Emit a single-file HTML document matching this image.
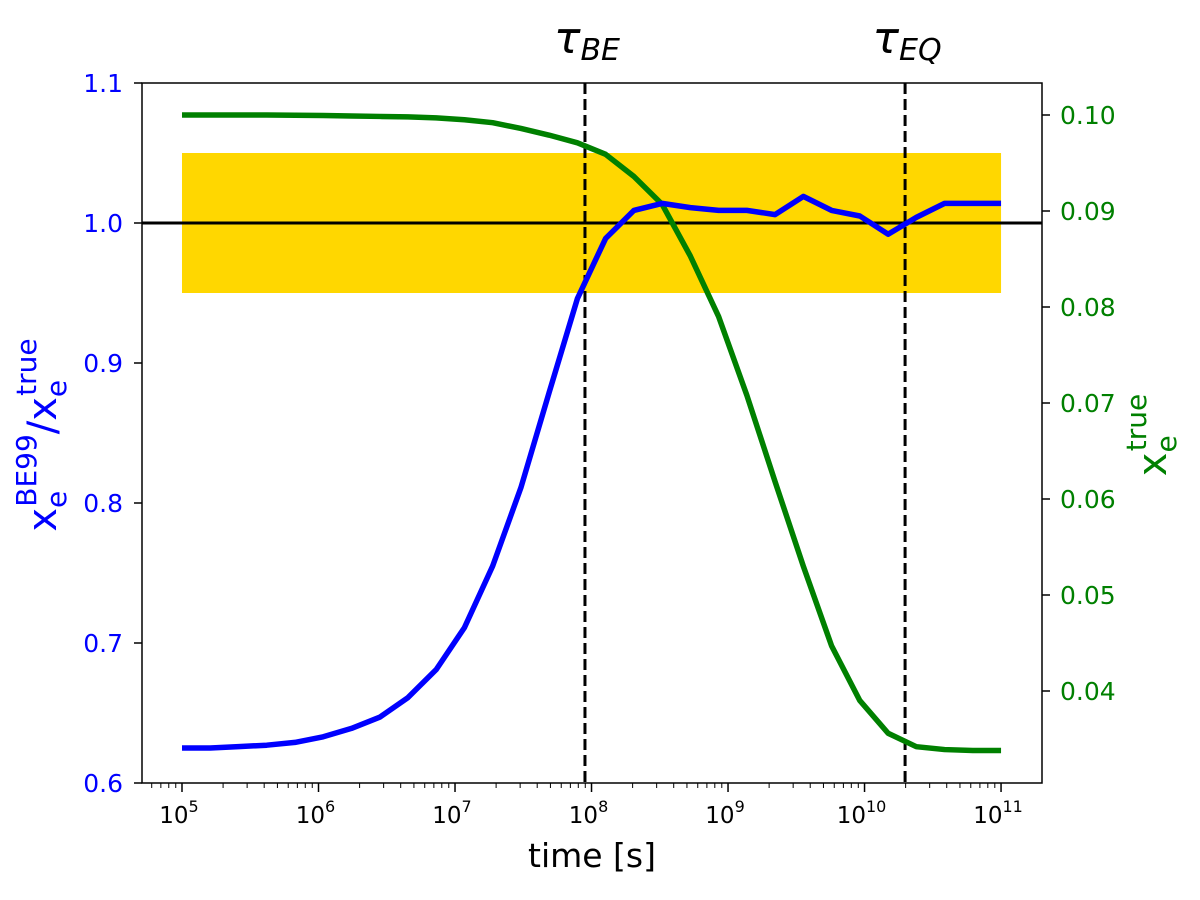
<!DOCTYPE html>
<html><head><meta charset="utf-8"><style>
body{margin:0;background:#fff}
svg text{font-family:"DejaVu Sans","Liberation Sans",sans-serif}
</style></head><body>
<svg id="chart" width="1200" height="895" xmlns="http://www.w3.org/2000/svg"></svg>
<script>
const logTimes=[5,5.2069,5.4138,5.6207,5.8276,6.0345,6.2414,6.4483,6.6552,6.8621,7.069,7.2759,7.4828,7.6897,7.8966,8.1034,8.3103,8.5172,8.7241,8.931,9.1379,9.3448,9.5517,9.7586,9.9655,10.1724,10.3793,10.5862,10.7931,11];
const ratioValues=[0.625,0.625,0.626,0.627,0.629,0.633,0.639,0.647,0.661,0.681,0.711,0.755,0.811,0.879,0.946,0.989,1.009,1.014,1.011,1.009,1.009,1.006,1.019,1.009,1.005,0.992,1.004,1.014,1.014,1.014];
const xeTrue=[0.1,0.1,0.1,0.1,0.09998,0.09995,0.0999,0.09985,0.0998,0.0997,0.0995,0.0992,0.0986,0.0979,0.0971,0.0959,0.0936,0.0907,0.0853,0.0790,0.0708,0.0618,0.0530,0.0447,0.0390,0.0356,0.0342,0.0339,0.0338,0.0338];
const leftTicks=[0.6,0.7,0.8,0.9,1.0,1.1];
const rightTicks=[0.04,0.05,0.06,0.07,0.08,0.09,0.10];
const xDecades=[5,6,7,8,9,10,11];
const markers=[{name:'tau-be',logt:7.952,label:'BE'},{name:'tau-eq',logt:10.297,label:'EQ'}];
const band=[0.95,1.05];

const NS='http://www.w3.org/2000/svg';
const svg=document.getElementById('chart');
const L=142,R=1042,T=83,B=783;
const X=lt=>L+(lt-4.707)/(11.30-4.707)*(R-L);
const YL=v=>B-(v-0.6)/(1.1-0.6)*(B-T);
const YR=v=>B-(v-0.030417)/(0.103333-0.030417)*(B-T);
function el(tag,attrs,parent){const e=document.createElementNS(NS,tag);for(const k in attrs)e.setAttribute(k,attrs[k]);(parent||svg).appendChild(e);return e;}

const b=el('rect',{x:X(5),y:YL(band[1]),width:X(11)-X(5),height:YL(band[0])-YL(band[1]),fill:'#ffd700'});


const h=el('line',{x1:L,x2:R,y1:YL(1),y2:YL(1),stroke:'#000','stroke-width':3});



markers.forEach(m=>{
  const l=el('line',{x1:X(m.logt),x2:X(m.logt),y1:T,y2:B,stroke:'#000','stroke-width':3,'stroke-dasharray':'11,5'});
  
  
  const t=el('text',{x:X(m.logt)+2,y:53,'text-anchor':'middle','font-size':44,'font-style':'italic'});
  
  
  t.innerHTML='τ<tspan font-size="30" dy="7">'+m.label+'</tspan>';
});

const pg=el('polyline',{points:logTimes.map((t,i)=>X(t)+','+YR(xeTrue[i])).join(' '),fill:'none',stroke:'#008000','stroke-width':5.5,'stroke-linejoin':'round'});


const pb=el('polyline',{points:logTimes.map((t,i)=>X(t)+','+YL(ratioValues[i])).join(' '),fill:'none',stroke:'#0000ff','stroke-width':5.5,'stroke-linejoin':'round'});



const fr=el('rect',{x:L,y:T,width:R-L,height:B-T,fill:'none',stroke:'#000','stroke-width':1.5});



leftTicks.forEach(v=>{
  el('line',{x1:L-8,x2:L,y1:YL(v),y2:YL(v),stroke:'#000','stroke-width':1.5});
  const t=el('text',{x:L-19,y:YL(v)+9,'text-anchor':'end','font-size':25,fill:'#0000ff'});
  
  
  t.textContent=v.toFixed(1);
});
rightTicks.forEach(v=>{
  el('line',{x1:R,x2:R+8,y1:YR(v),y2:YR(v),stroke:'#000','stroke-width':1.5});
  const t=el('text',{x:R+18,y:YR(v)+9,'font-size':25,fill:'#008000'});
  
  
  t.textContent=v.toFixed(2);
});
for(let d=4;d<=11;d++){for(let m=2;m<=9;m++){const lt=d+Math.log10(m);if(lt>4.707&&lt<11.30)el('line',{x1:X(lt),x2:X(lt),y1:B,y2:B+5,stroke:'#000','stroke-width':1});}}
xDecades.forEach(d=>{
  el('line',{x1:X(d),x2:X(d),y1:B,y2:B+9,stroke:'#000','stroke-width':1.5});
  const t=el('text',{x:X(d)-3,y:B+40,'text-anchor':'middle','font-size':23});
  
  
  t.innerHTML='10<tspan font-size="16" dy="-11">'+d+'</tspan>';
});
const xl=el('text',{x:(L+R)/2,y:867,'text-anchor':'middle','font-size':33});


xl.textContent='time [s]';
const yl=el('text',{transform:'translate(56,435) rotate(-90)','text-anchor':'middle','font-size':40,fill:'#0000ff'});


yl.innerHTML='x<tspan font-size="28" dy="10">e</tspan><tspan font-size="28" dy="-30" dx="-16">BE99</tspan><tspan dy="20">/x</tspan><tspan font-size="28" dy="10">e</tspan><tspan font-size="28" dy="-30" dx="-16">true</tspan>';
const yr=el('text',{transform:'translate(1166,435) rotate(-90)','text-anchor':'middle','font-size':40,fill:'#008000'});


yr.innerHTML='x<tspan font-size="28" dy="10">e</tspan><tspan font-size="28" dy="-30" dx="-16">true</tspan>';
</script>
</body></html>
